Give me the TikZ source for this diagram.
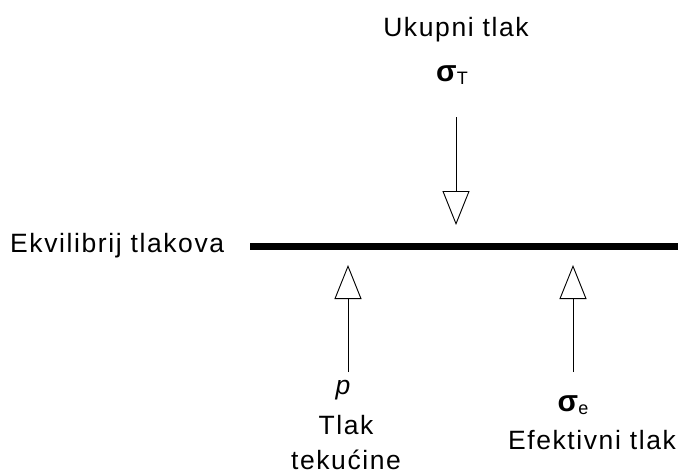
\documentclass[tikz,border=0pt]{standalone}
\usepackage{fontspec}
\setmainfont{Liberation Sans}
\usetikzlibrary{arrows.meta}

\tikzset{
  sila/.style={line width=0.9pt, -{Triangle[open, length=34pt, width=27pt, line width=0.9pt]}},
  natpis/.style={font=\fontsize{26.5}{30}\selectfont\addfontfeature{LetterSpace=6}, inner sep=0pt},
  znak/.style={font=\fontsize{30}{32}\selectfont\bfseries, inner sep=0pt}
}
\newcommand{\sigind}[1]{σ\raisebox{-3pt}{\fontsize{18}{18}\selectfont\mdseries #1}}

\begin{document}
\begin{tikzpicture}[x=1pt,y=-1pt]
  \useasboundingbox (0,0) rectangle (678,475);

  % ravnoteza
  \node[natpis, anchor=west] (ekv) at (10,246) {Ekvilibrij tlakova};
  \coordinate (lijevo) at (250,246);
  \coordinate (desno) at (678,246);
  \draw[line width=7pt] (lijevo) -- (desno);

  % ukupni tlak
  \node[natpis] (ukupni) at (456,30) {Ukupni tlak};
  \node[znak] (sigt) at (452,75) {\sigind{T}};
  \coordinate (t1) at (456,117);
  \coordinate (t2) at (456,225);
  \draw[sila] (t1) -- (t2);

  % tlak tekucine
  \coordinate (p1) at (348,372);
  \coordinate (p2) at (348,265);
  \draw[sila] (p1) -- (p2);
  \node[natpis] (pe) at (343,390) {\itshape p};
  \node[natpis] (tlak) at (346,425) {Tlak};
  \node[natpis] (tekucine) at (346,460) {tekućine};

  % efektivni tlak
  \coordinate (e1) at (573,372);
  \coordinate (e2) at (573,265);
  \draw[sila] (e1) -- (e2);
  \node[znak] (sige) at (573,405) {\sigind{e}};
  \node[natpis] (efekt) at (592,440) {Efektivni tlak};
\end{tikzpicture}
\end{document}
